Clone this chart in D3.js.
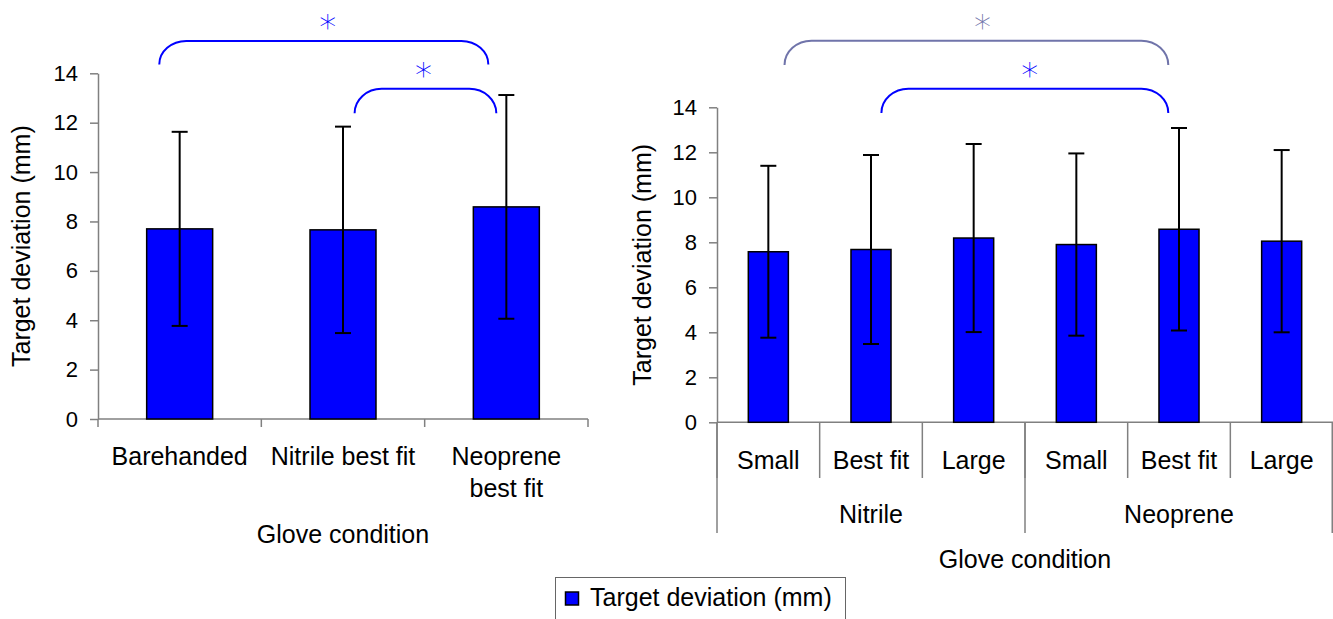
<!DOCTYPE html>
<html>
<head>
<meta charset="utf-8">
<script src="https://cdn.jsdelivr.net/npm/d3@7"></script>
<style>
  html, body { margin: 0; padding: 0; background: #ffffff; }
  svg { display: block; font-family: "Liberation Sans", Arial, sans-serif; }
</style>
</head>
<body>
<script>
// Mean target deviation (mm) with standard deviation, by glove condition
const leftCategories = ["Barehanded", "Nitrile best fit", "Neoprene best fit"];
const leftMeans = [7.70, 7.66, 8.59];
const leftSD = [3.93, 4.18, 4.53];

const rightMaterials = ["Nitrile", "Neoprene"];
const rightSizes = ["Small", "Best fit", "Large"];
const rightMeans = [7.58, 7.68, 8.19, 7.90, 8.58, 8.05];
const rightSD = [3.82, 4.20, 4.18, 4.05, 4.50, 4.05];

const yTicks = [0, 2, 4, 6, 8, 10, 12, 14];
const yTitle = "Target deviation (mm)";
const xTitle = "Glove condition";
const legendLabel = "Target deviation (mm)";

// Significant pairwise differences (marked with *)
const leftComparisons = [
  ["Barehanded", "Neoprene best fit"],
  ["Nitrile best fit", "Neoprene best fit"]
];
const rightComparisons = [
  ["Nitrile|Small", "Neoprene|Best fit"],
  ["Nitrile|Best fit", "Neoprene|Best fit"]
];

const W = 1333, H = 619;
const BAR = "#0000ff";
const AXIS = "#808080";
const FONT = "Liberation Sans, Arial, sans-serif";

const svg = d3.select("body").append("svg")
  .attr("width", W).attr("height", H)
  .attr("viewBox", `0 0 ${W} ${H}`);

function styleAxis(g) {
  g.select(".domain").attr("stroke", AXIS).attr("stroke-width", 1.5);
  g.selectAll(".tick line").attr("stroke", AXIS).attr("stroke-width", 1.5);
  g.selectAll(".tick text")
    .attr("fill", "#000").attr("font-size", 22).attr("font-family", FONT);
}

function wrapText(textSel, maxWidth, lineHeight) {
  textSel.each(function () {
    const text = d3.select(this);
    const words = text.text().split(/\s+/);
    const x = text.attr("x");
    text.text(null);
    let line = [];
    let tspan = text.append("tspan").attr("x", x).attr("dy", 0);
    words.forEach(w => {
      line.push(w);
      tspan.text(line.join(" "));
      if (tspan.node().getComputedTextLength() > maxWidth && line.length > 1) {
        line.pop();
        tspan.text(line.join(" "));
        line = [w];
        tspan = text.append("tspan").attr("x", x).attr("dy", lineHeight).text(w);
      }
    });
  });
}

function drawBracket(g, x1, x2, yTop, yBottom, color, starOffset) {
  const rx = 27, ry = yBottom - yTop;
  const p = d3.path();
  p.moveTo(x1, yBottom);
  p.bezierCurveTo(x1, yBottom - ry * 0.55, x1 + rx * 0.45, yTop, x1 + rx, yTop);
  p.lineTo(x2 - rx, yTop);
  p.bezierCurveTo(x2 - rx * 0.45, yTop, x2, yBottom - ry * 0.55, x2, yBottom);
  g.append("path").attr("d", p.toString())
    .attr("fill", "none").attr("stroke", color).attr("stroke-width", 2);
  g.append("text")
    .attr("x", (x1 + x2) / 2 + starOffset)
    .attr("y", yTop - 21 + 19)
    .attr("text-anchor", "middle")
    .attr("font-size", 34).attr("font-family", "DejaVu Sans, sans-serif")
    .attr("font-weight", 300)
    .attr("fill", color)
    .text("*");
}

function drawBars(g, x, y, keys, means, sds, widthFrac) {
  const bw = x.bandwidth() * widthFrac;
  const data = keys.map((k, i) => ({ k, m: means[i], s: sds[i] }));
  g.selectAll("rect.bar").data(data).join("rect")
    .attr("class", "bar")
    .attr("x", d => x(d.k) + (x.bandwidth() - bw) / 2)
    .attr("width", bw)
    .attr("y", d => y(d.m))
    .attr("height", d => y(0) - y(d.m))
    .attr("fill", BAR).attr("stroke", "#000").attr("stroke-width", 1.5);
  const cx = d => x(d.k) + x.bandwidth() / 2;
  const err = g.selectAll("g.err").data(data).join("g").attr("class", "err")
    .attr("stroke", "#000").attr("stroke-width", 2);
  err.append("line")
    .attr("x1", cx).attr("x2", cx)
    .attr("y1", d => y(d.m + d.s)).attr("y2", d => y(d.m - d.s));
  [1, -1].forEach(sign => {
    err.append("line")
      .attr("x1", d => cx(d) - 8).attr("x2", d => cx(d) + 8)
      .attr("y1", d => y(d.m + sign * d.s)).attr("y2", d => y(d.m + sign * d.s));
  });
}

// ---------- Left panel ----------
{
  const g = svg.append("g");
  const x = d3.scaleBand().domain(leftCategories).range([98, 588]);
  const y = d3.scaleLinear().domain([0, 14]).range([419, 73.3]);

  // x baseline and category boundary ticks
  g.append("line").attr("x1", x.range()[0]).attr("x2", x.range()[1])
    .attr("y1", y(0)).attr("y2", y(0)).attr("stroke", AXIS).attr("stroke-width", 1.5);
  const bounds = leftCategories.map(c => x(c)).concat([x.range()[1]]);
  g.selectAll("line.bt").data(bounds).join("line").attr("class", "bt")
    .attr("x1", d => d).attr("x2", d => d)
    .attr("y1", y(0)).attr("y2", y(0) + 8)
    .attr("stroke", AXIS).attr("stroke-width", 1.5);

  const ya = g.append("g").attr("transform", `translate(${x.range()[0]},0)`)
    .call(d3.axisLeft(y).tickValues(yTicks).tickSize(8).tickSizeOuter(0).tickPadding(12));
  styleAxis(ya);

  drawBars(g, x, y, leftCategories, leftMeans, leftSD, 0.404);

  g.selectAll("text.cat").data(leftCategories).join("text").attr("class", "cat")
    .attr("x", d => x(d) + x.bandwidth() / 2).attr("y", 465)
    .attr("text-anchor", "middle").attr("font-size", 25).attr("font-family", FONT)
    .text(d => d)
    .call(wrapText, 160, 32);

  g.append("text")
    .attr("x", (x.range()[0] + x.range()[1]) / 2).attr("y", 543)
    .attr("text-anchor", "middle").attr("font-size", 25).attr("font-family", FONT)
    .text(xTitle);

  g.append("text")
    .attr("transform", `translate(30,${(y(0) + y(14)) / 2}) rotate(-90)`)
    .attr("text-anchor", "middle").attr("font-size", 25).attr("font-family", FONT)
    .text(yTitle);

  const levels = [{ top: 15.31, bottom: 14.36, dx1: -20.4, dx2: -18, star: 4, color: "#0000ff" },
                  { top: 13.37, bottom: 12.38, dx1: 11.6, dx2: -10, star: -2, color: "#0000ff" }];
  leftComparisons.forEach((c, i) => {
    const L = levels[i];
    const cx = k => x(k) + x.bandwidth() / 2;
    drawBracket(g, cx(c[0]) + L.dx1, cx(c[1]) + L.dx2, y(L.top), y(L.bottom), L.color, L.star);
  });
}

// ---------- Right panel ----------
{
  const g = svg.append("g");
  const keys = rightMaterials.flatMap(m => rightSizes.map(s => `${m}|${s}`));
  const x = d3.scaleBand().domain(keys).range([717, 1333]);
  const xg = d3.scaleBand().domain(rightMaterials).range([717, 1333]);
  const y = d3.scaleLinear().domain([0, 14]).range([422.3, 107.3]);

  g.append("line").attr("x1", x.range()[0]).attr("x2", x.range()[1])
    .attr("y1", y(0)).attr("y2", y(0)).attr("stroke", AXIS).attr("stroke-width", 1.5);

  // sub-category separators
  g.selectAll("line.sb").data(keys).join("line").attr("class", "sb")
    .attr("x1", d => x(d)).attr("x2", d => x(d))
    .attr("y1", y(0)).attr("y2", 478)
    .attr("stroke", AXIS).attr("stroke-width", 1.5);
  // group separators
  const gb = rightMaterials.map(m => xg(m)).concat([xg.range()[1] - 0.75]);
  g.selectAll("line.gb").data(gb).join("line").attr("class", "gb")
    .attr("x1", d => d).attr("x2", d => d)
    .attr("y1", y(0)).attr("y2", 533)
    .attr("stroke", AXIS).attr("stroke-width", 1.5);

  const ya = g.append("g").attr("transform", `translate(${x.range()[0]},0)`)
    .call(d3.axisLeft(y).tickValues(yTicks).tickSize(8).tickSizeOuter(0).tickPadding(12));
  styleAxis(ya);

  drawBars(g, x, y, keys, rightMeans, rightSD, 0.39);

  g.selectAll("text.sub").data(keys).join("text").attr("class", "sub")
    .attr("x", d => x(d) + x.bandwidth() / 2).attr("y", 469)
    .attr("text-anchor", "middle").attr("font-size", 25).attr("font-family", FONT)
    .text(d => d.split("|")[1]);

  g.selectAll("text.grp").data(rightMaterials).join("text").attr("class", "grp")
    .attr("x", d => xg(d) + xg.bandwidth() / 2).attr("y", 523)
    .attr("text-anchor", "middle").attr("font-size", 25).attr("font-family", FONT)
    .text(d => d);

  g.append("text")
    .attr("x", (x.range()[0] + x.range()[1]) / 2).attr("y", 568)
    .attr("text-anchor", "middle").attr("font-size", 25).attr("font-family", FONT)
    .text(xTitle);

  g.append("text")
    .attr("transform", `translate(651,${(y(0) + y(14)) / 2}) rotate(-90)`)
    .attr("text-anchor", "middle").attr("font-size", 25).attr("font-family", FONT)
    .text(yTitle);

  const levels = [{ top: 16.96, bottom: 15.88, dx1: 16.2, dx2: -10.7, star: 6, color: "#7074aa" },
                  { top: 14.83, bottom: 13.75, dx1: 10.4, dx2: -10.7, star: 5, color: "#0000ff" }];
  rightComparisons.forEach((c, i) => {
    const L = levels[i];
    const cx = k => x(k) + x.bandwidth() / 2;
    drawBracket(g, cx(c[0]) + L.dx1, cx(c[1]) + L.dx2, y(L.top), y(L.bottom), L.color, L.star);
  });
}

// ---------- Legend ----------
{
  const g = svg.append("g").attr("transform", "translate(555,577)");
  g.append("rect").attr("x", 0.5).attr("y", 0.5).attr("width", 290).attr("height", 60)
    .attr("fill", "#fff").attr("stroke", "#666").attr("stroke-width", 1);
  g.append("rect").attr("x", 10.5).attr("y", 15).attr("width", 13).attr("height", 13)
    .attr("fill", BAR).attr("stroke", "#000").attr("stroke-width", 1.5);
  g.append("text").attr("x", 35).attr("y", 29)
    .attr("font-size", 25).attr("font-family", FONT)
    .text(legendLabel);
}
</script>
</body>
</html>
